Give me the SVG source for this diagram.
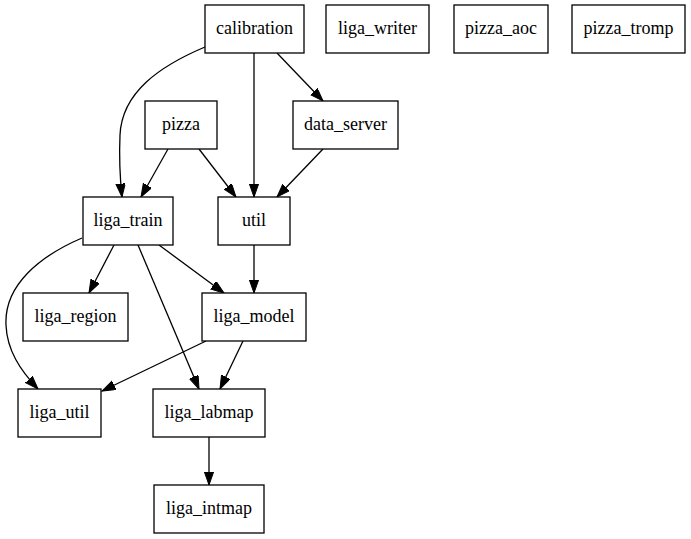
<svg xmlns="http://www.w3.org/2000/svg" width="691" height="539" viewBox="0 0 691 539">
<style>
rect{fill:#fff;stroke:#000;stroke-width:1.3}
text{font-family:"Liberation Serif","Times New Roman",serif;font-size:18px;text-anchor:middle;fill:#000}
.e{fill:none;stroke:#000;stroke-width:1.3;marker-end:url(#a)}
</style>
<defs>
<marker id="a" markerUnits="userSpaceOnUse" markerWidth="16" markerHeight="12" refX="13.3" refY="4.7" orient="auto">
<path d="M0,0 L13.3,4.7 L0,9.4 z" fill="#000" stroke="#000" stroke-width="1"/>
</marker>
</defs>
<rect width="691" height="539" fill="#fff" style="stroke:none"/>
<g id="edges">
<path class="e" d="M205,47 C160,66 122,92 120,135 C119,158 120,178 122,197"/>
<path class="e" d="M254,53 L254,197"/>
<path class="e" d="M277,53 L323,101"/>
<path class="e" d="M168,149 L141,197"/>
<path class="e" d="M199,149 L236,197"/>
<path class="e" d="M323,149 L277,197"/>
<path class="e" d="M114,245 L89,293"/>
<path class="e" d="M159,245 L224,293"/>
<path class="e" d="M254,245 L254,293"/>
<path class="e" d="M138,245 L199,389"/>
<path class="e" d="M82,238 C40,256 4,285 6,325 C7,350 20,370 38,389"/>
<path class="e" d="M206,341 L102,391"/>
<path class="e" d="M243,341 L220,389"/>
<path class="e" d="M209,437 L209,485"/>
</g>
<g id="calibration"><rect x="205" y="5" width="99" height="48"/><text x="254.5" y="34">calibration</text></g>
<g id="liga_writer"><rect x="326" y="5" width="103" height="48"/><text x="377.5" y="34">liga_writer</text></g>
<g id="pizza_aoc"><rect x="454" y="5" width="94" height="48"/><text x="501" y="34">pizza_aoc</text></g>
<g id="pizza_tromp"><rect x="572" y="5" width="113" height="48"/><text x="628.5" y="34">pizza_tromp</text></g>
<g id="pizza"><rect x="145" y="101" width="72" height="48"/><text x="181" y="130">pizza</text></g>
<g id="data_server"><rect x="293" y="101" width="105" height="48"/><text x="345.5" y="130">data_server</text></g>
<g id="liga_train"><rect x="83" y="197" width="90" height="48"/><text x="128" y="226">liga_train</text></g>
<g id="util"><rect x="218" y="197" width="72" height="48"/><text x="254" y="226">util</text></g>
<g id="liga_region"><rect x="23" y="293" width="105" height="48"/><text x="75.5" y="322">liga_region</text></g>
<g id="liga_model"><rect x="202" y="293" width="104" height="48"/><text x="254" y="322">liga_model</text></g>
<g id="liga_util"><rect x="18" y="389" width="83" height="48"/><text x="59.5" y="418">liga_util</text></g>
<g id="liga_labmap"><rect x="153" y="389" width="112" height="48"/><text x="209" y="418">liga_labmap</text></g>
<g id="liga_intmap"><rect x="154" y="485" width="110" height="48"/><text x="209" y="514">liga_intmap</text></g>
</svg>
